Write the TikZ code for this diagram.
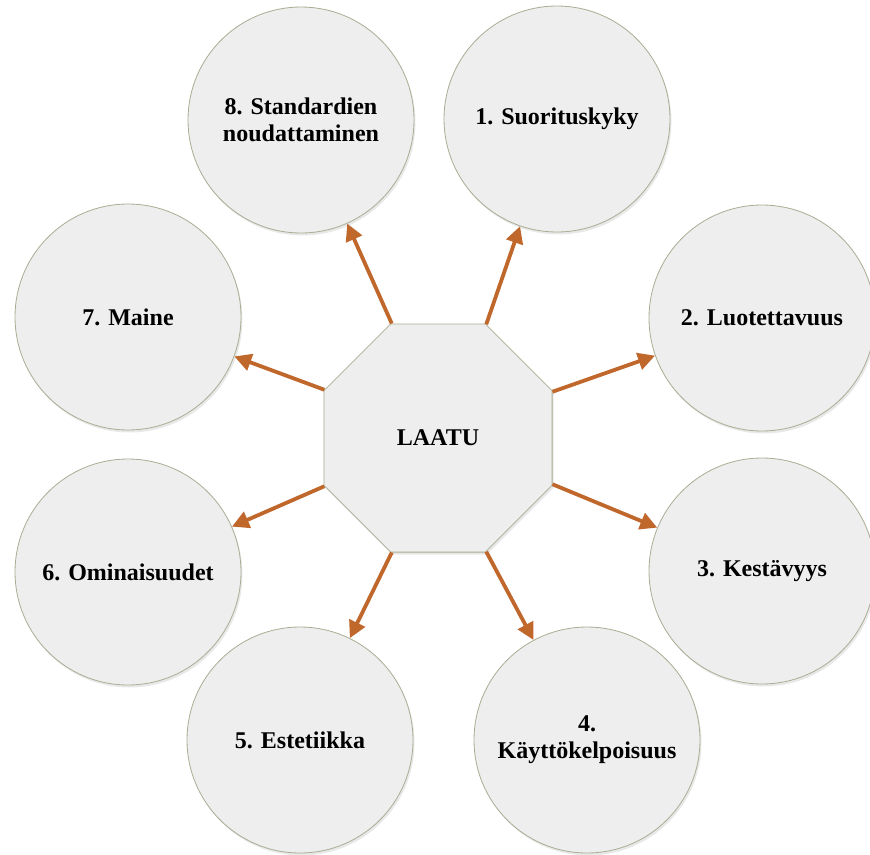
\documentclass[tikz,border=0pt]{standalone}
\usepackage{fontspec}
\setmainfont{Liberation Serif}
\usepackage{xcolor}
\usepackage{tikz}
\usetikzlibrary{shapes.geometric, arrows.meta, shadows}
\definecolor{arrowc}{HTML}{C0672C}
\definecolor{rimc}{HTML}{A9AD94}
\definecolor{facec}{HTML}{EEEEEE}

\begin{document}
\begin{tikzpicture}[
    x=1pt, y=-1pt,
    factor/.style={circle, draw=rimc, fill=facec, line width=0.8pt, minimum size=226pt,
      inner sep=0pt, align=center, font=\bfseries\fontsize{24}{27}\selectfont,
      drop shadow={shadow xshift=1.5pt, shadow yshift=-2.5pt, opacity=0.18}},
    core/.style={regular polygon, regular polygon sides=8, draw=rimc, fill=facec,
      line width=0.8pt, minimum size=247pt, inner sep=0pt,
      font=\bfseries\fontsize{24}{27}\selectfont,
      drop shadow={shadow xshift=1.5pt, shadow yshift=-2.5pt, opacity=0.18}},
    link/.style={-{Triangle[length=17pt, width=17pt]}, line width=3.8pt, arrowc}
  ]
    \useasboundingbox (0,0) rectangle (870,854);

    \node[core] (laatu) at (438,438) {LAATU};

    \node[factor] (suor)  at (557,119) {1. Suorituskyky};
    \node[factor] (luot)  at (762,318) {2. Luotettavuus};
    \node[factor] (kest)  at (762,571) {3. Kestävyys};
    \node[factor] (kayt)  at (587,740) {4.\\Käyttökelpoisuus};
    \node[factor] (este)  at (300,740) {5. Estetiikka};
    \node[factor] (omin)  at (128,572) {6. Ominaisuudet};
    \node[factor] (maine) at (128,317) {7. Maine};
    \node[factor] (stand) at (301,120) {8. Standardien\\noudattaminen};

    \draw[link] (laatu.67.5)  -- (suor);
    \draw[link] (laatu.22.5)  -- (luot);
    \draw[link] (laatu.-22.5) -- (kest);
    \draw[link] (laatu.-67.5) -- (kayt);
    \draw[link] (laatu.-112.5) -- (este);
    \draw[link] (laatu.-157.5) -- (omin);
    \draw[link] (laatu.157.5) -- (maine);
    \draw[link] (laatu.112.5) -- (stand);
  \end{tikzpicture}
\end{document}
